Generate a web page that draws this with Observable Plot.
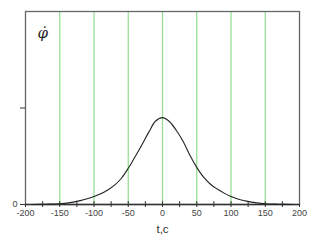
<!DOCTYPE html>
<html>
<head>
<meta charset="utf-8">
<script src="https://cdn.jsdelivr.net/npm/d3@7"></script>
<script src="https://cdn.jsdelivr.net/npm/@observablehq/plot@0.6"></script>
<style>
  html, body { margin: 0; padding: 0; background: #fff; }
</style>
</head>
<body>
<div id="chart"></div>
<script>
const tValues = [-190,-170,-150,-130,-120,-110,-100,-90,-80,-70,-60,-50,-40,-30,-20,-10,0,10,20,30,40,50,60,70,80,90,100,110,120,130,150,170,190];
const phiDot  = [0.000,0.003,0.008,0.025,0.040,0.060,0.084,0.112,0.150,0.200,0.272,0.375,0.495,0.62,0.75,0.865,0.90,0.86,0.77,0.655,0.51,0.385,0.283,0.21,0.160,0.118,0.082,0.056,0.039,0.025,0.008,0.003,0.000];
const gridT = [-150,-100,-50,0,50,100,150];
const xTicks = [-200,-175,-150,-125,-100,-75,-50,-25,0,25,50,75,100,125,150,175,200];
const yTicks = [0, 1];
const yLabel = "\u03C6\u0307";
const xLabel = "t,c";

const data = tValues.map((t, i) => ({t, v: phiDot[i]}));

const chart = Plot.plot({
  width: 325,
  height: 241,
  marginLeft: 25,
  marginRight: 26,
  marginTop: 11,
  marginBottom: 37,
  style: {fontFamily: "Liberation Sans, Arial, sans-serif", fontSize: "9px", color: "#444", background: "#fff"},
  x: {domain: [-200, 200]},
  y: {domain: [0, 2]},
  marks: [
    Plot.ruleX(gridT, {x: d => d, stroke: "#8ede8e", strokeWidth: 1.2}),
    Plot.frame({stroke: "#666", strokeWidth: 1.3}),
    Plot.ruleY([0], {stroke: "#333", strokeWidth: 1.3}),
    Plot.ruleX(xTicks.filter(d => d > -200 && d < 200), {x: d => d, y1: 0, y2: 0.03, stroke: "#333"}),
    Plot.axisX({ticks: xTicks, tickSize: 3, tickPadding: 2, tickFormat: d => d % 50 === 0 ? String(d) : "", label: null, stroke: "#333", fontSize: 9}),
    Plot.axisY({ticks: yTicks, tickSize: 5, tickPadding: 3, tickFormat: d => d === 0 ? "0" : "", label: null, stroke: "#333"}),
    Plot.line(data, {x: "t", y: "v", curve: "catmull-rom", stroke: "#222", strokeWidth: 1.1}),
    Plot.text([xLabel], {text: d => d, frameAnchor: "bottom", dy: 25, lineAnchor: "middle", fontSize: 11.5, fill: "#333"}),
    Plot.text([yLabel], {text: d => d, frameAnchor: "top-left", dx: 12, dy: 16, textAnchor: "start", fontStyle: "italic", fontSize: 15, fill: "#222", fontFamily: "DejaVu Serif, serif"})
  ]
});
document.getElementById("chart").appendChild(chart);
</script>
</body>
</html>
